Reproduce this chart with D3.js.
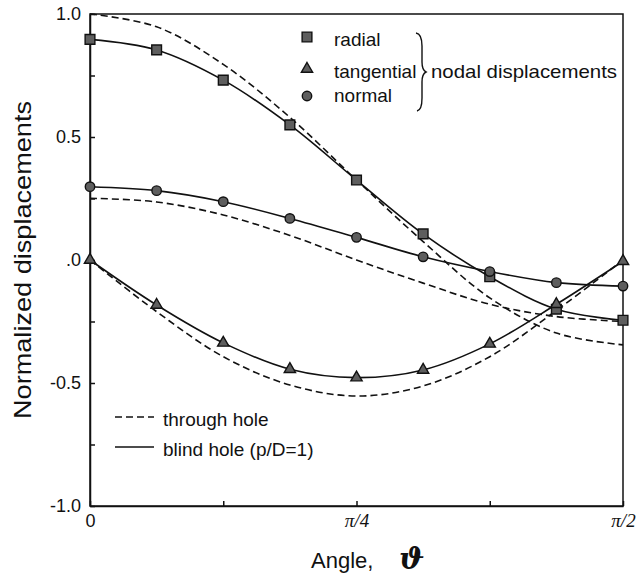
<!DOCTYPE html>
<html>
<head>
<meta charset="utf-8">
<script src="https://cdn.jsdelivr.net/npm/d3@7"></script>
<style>
  body { margin: 0; background: #fff; }
  svg { display: block; font-family: "Liberation Sans", Arial, sans-serif; }
  .axis text { font-size: 18px; fill: #111; }
  .axis path, .axis line { stroke: #111; stroke-width: 1.5; }
</style>
</head>
<body>
<div id="chart"></div>
<script>
// angle, as a fraction of pi
const angles = [0, 0.0625, 0.125, 0.1875, 0.25, 0.3125, 0.375, 0.4375, 0.5];

// blind hole (p/D=1), solid with markers
const radialBlind = [0.897, 0.854, 0.731, 0.549, 0.325, 0.106, -0.068, -0.200, -0.245];
const tangentialBlind = [0.0, -0.183, -0.337, -0.444, -0.478, -0.447, -0.341, -0.180, -0.005];
const normalBlind = [0.298, 0.282, 0.237, 0.169, 0.092, 0.013, -0.047, -0.092, -0.106];

// through hole, dashed
const radialThrough = [1.0, 0.948, 0.795, 0.58, 0.325, 0.075, -0.154, -0.297, -0.345];
const tangentialThrough = [0.0, -0.21, -0.393, -0.508, -0.553, -0.512, -0.393, -0.205, 0.0];
const normalThrough = [0.251, 0.236, 0.183, 0.10, 0.0, -0.094, -0.18, -0.23, -0.25];

// ticks
const yTicks = [-1, -0.75, -0.5, -0.25, 0, 0.25, 0.5, 0.75, 1];
const yTickLabels = {"1": "1.0", "0.5": "0.5", "0": ".0", "-0.5": "-0.5", "-1": "-1.0"};
const xTicks = [0, 0.125, 0.25, 0.375, 0.5];
const xTickLabels = {"0": "0", "0.25": "\u03c0/4", "0.5": "\u03c0/2"};

const width = 640, height = 575;
const margin = {top: 14, right: 17, bottom: 69, left: 90};

const svg = d3.select("#chart").append("svg")
    .attr("width", width)
    .attr("height", height);

const x = d3.scaleLinear()
    .domain([0, 0.5])
    .range([margin.left, width - margin.right]);

const y = d3.scaleLinear()
    .domain([-1, 1])
    .range([height - margin.bottom, margin.top]);

// frame
svg.append("rect")
    .attr("x", x(0)).attr("y", y(1))
    .attr("width", x(0.5) - x(0)).attr("height", y(-1) - y(1))
    .attr("fill", "none").attr("stroke", "#111").attr("stroke-width", 1.5);

// axes (ticks inward)
const yAxis = svg.append("g")
    .attr("class", "axis")
    .attr("transform", `translate(${x(0)},0)`)
    .call(d3.axisLeft(y).tickValues(yTicks).tickSizeInner(-5).tickSizeOuter(0).tickPadding(9)
        .tickFormat(d => yTickLabels[String(d)] || ""));
yAxis.select(".domain").attr("stroke-width", 2);

const xAxis = svg.append("g")
    .attr("class", "axis")
    .attr("transform", `translate(0,${y(-1)})`)
    .call(d3.axisBottom(x).tickValues(xTicks).tickSizeInner(-5).tickSizeOuter(0).tickPadding(8)
        .tickFormat(d => xTickLabels[String(d)] || ""));
xAxis.selectAll("text")
    .filter(d => d > 0)
    .style("font-family", "'Liberation Serif', 'DejaVu Serif', serif")
    .style("font-style", "italic")
    .style("font-size", "19px");

// axis titles
svg.append("text")
    .attr("transform", `translate(31,${(y(1) + y(-1)) / 2}) rotate(-90)`)
    .attr("text-anchor", "middle")
    .attr("font-size", 24)
    .attr("textLength", 318)
    .attr("lengthAdjust", "spacingAndGlyphs")
    .attr("fill", "#111")
    .text("Normalized displacements");

svg.append("text")
    .attr("x", 311).attr("y", 568)
    .attr("font-size", 22)
    .attr("fill", "#111")
    .text("Angle,");
svg.append("text")
    .attr("x", 399).attr("y", 569)
    .attr("font-size", 30)
    .attr("font-style", "italic")
    .attr("font-weight", "bold")
    .attr("font-family", "'DejaVu Serif', 'Liberation Serif', serif")
    .attr("fill", "#111")
    .text("\u03d1");

// lines
const line = d3.line()
    .x(d => x(d[0]))
    .y(d => y(d[1]))
    .curve(d3.curveCatmullRom.alpha(0.5));

const series = [
    {values: radialThrough, dashed: true},
    {values: tangentialThrough, dashed: true},
    {values: normalThrough, dashed: true},
    {values: radialBlind, dashed: false, marker: "square"},
    {values: tangentialBlind, dashed: false, marker: "triangle"},
    {values: normalBlind, dashed: false, marker: "circle"}
];

series.forEach(s => {
    svg.append("path")
        .datum(angles.map((a, i) => [a, s.values[i]]))
        .attr("d", line)
        .attr("fill", "none")
        .attr("stroke", "#111")
        .attr("stroke-width", 1.6)
        .attr("stroke-dasharray", s.dashed ? "7,4" : null);
});

// markers
const symbols = {
    square: d3.symbol().type(d3.symbolSquare).size(95),
    triangle: d3.symbol().type(d3.symbolTriangle).size(55),
    circle: d3.symbol().type(d3.symbolCircle).size(70)
};

function marker(g, type, cx, cy) {
    g.append("path")
        .attr("d", symbols[type]())
        .attr("transform", `translate(${cx},${cy})`)
        .attr("fill", "#5e5e5e")
        .attr("stroke", "#111")
        .attr("stroke-width", 1.4);
}

const markerG = svg.append("g");
series.filter(s => s.marker).forEach(s => {
    angles.forEach((a, i) => marker(markerG, s.marker, x(a), y(s.values[i])));
});

// legend: nodal displacements
const leg = svg.append("g").attr("font-size", 19).attr("fill", "#111");
const legItems = [
    {label: "radial", marker: "square", my: 37, ty: 46},
    {label: "tangential", marker: "triangle", my: 69, ty: 78},
    {label: "normal", marker: "circle", my: 96, ty: 102}
];
legItems.forEach(d => {
    marker(leg, d.marker, 307, d.my);
    leg.append("text").attr("x", 334).attr("y", d.ty).text(d.label);
});
leg.append("path")
    .attr("d", "M416,33 Q422,34 422,46 L422,62 Q422,70 426,72 Q422,74 422,82 L422,98 Q422,110 417,111")
    .attr("fill", "none").attr("stroke", "#111").attr("stroke-width", 1.4);
leg.append("text").attr("x", 431).attr("y", 78)
    .attr("textLength", 186).attr("lengthAdjust", "spacingAndGlyphs")
    .text("nodal displacements");

// legend: hole type
const leg2 = svg.append("g").attr("font-size", 19).attr("fill", "#111");
leg2.append("line").attr("x1", 115).attr("x2", 154).attr("y1", 417).attr("y2", 417)
    .attr("stroke", "#111").attr("stroke-width", 1.6).attr("stroke-dasharray", "7,4");
leg2.append("text").attr("x", 163).attr("y", 426).text("through hole");
leg2.append("line").attr("x1", 115).attr("x2", 154).attr("y1", 447).attr("y2", 447)
    .attr("stroke", "#111").attr("stroke-width", 1.6);
leg2.append("text").attr("x", 163).attr("y", 456).text("blind hole (p/D=1)");
</script>
</body>
</html>
